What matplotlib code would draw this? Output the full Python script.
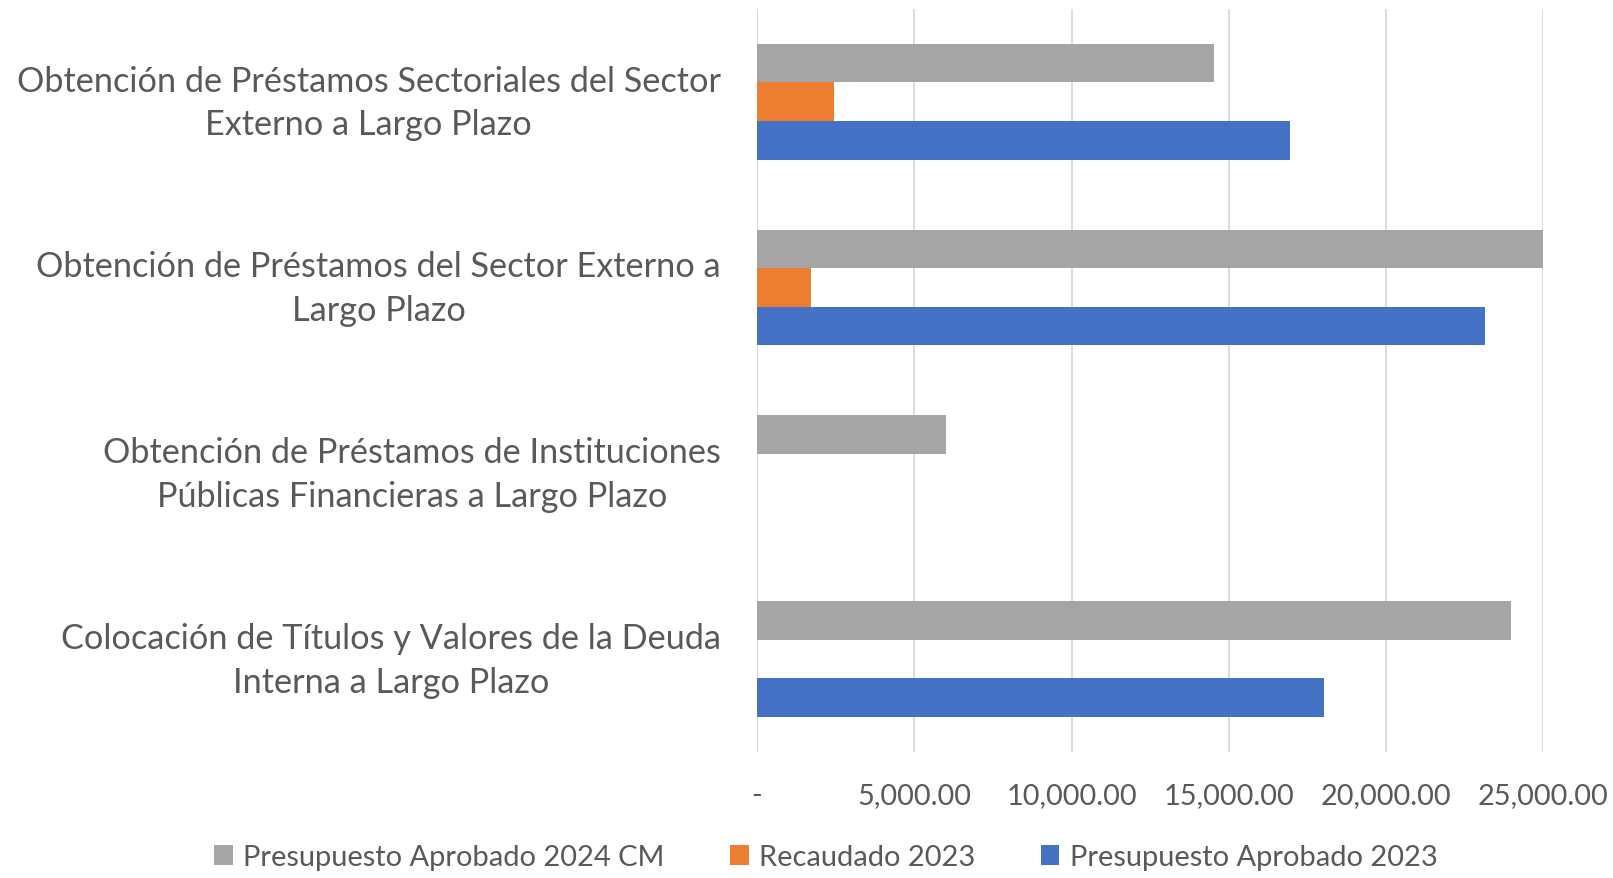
import matplotlib
matplotlib.use("Agg")
import matplotlib.pyplot as plt
import matplotlib.transforms as mtransforms
import numpy as np
from matplotlib.patches import Patch

plt.rcParams['font.family'] = ['Lato', 'DejaVu Sans']

categories = [
    "Obtención de Préstamos Sectoriales del Sector\nExterno a Largo Plazo",
    "Obtención de Préstamos del Sector Externo a\nLargo Plazo",
    "Obtención de Préstamos de Instituciones\nPúblicas Financieras a Largo Plazo",
    "Colocación de Títulos y Valores de la Deuda\nInterna a Largo Plazo",
]
series_names = ["Presupuesto Aprobado 2024 CM", "Recaudado 2023", "Presupuesto Aprobado 2023"]
presupuesto_2024_cm = [14530, 25070, 6020, 23970]
recaudado_2023 = [2450, 1730, 0, 0]
presupuesto_2023 = [16950, 23130, 0, 18030]
x_ticks = [0, 5000, 10000, 15000, 20000, 25000]
x_tick_labels = ["-", "5,000.00", "10,000.00", "15,000.00", "20,000.00", "25,000.00"]
colors = ["#A5A5A5", "#ED7D31", "#4472C4"]

text_color = "#595959"
fig = plt.figure(figsize=(16.13, 8.79), dpi=100)
ax = fig.add_axes([0.4693, 0.1437, 0.4875, 0.845])

y = np.arange(len(categories))
h = 0.208
for i, (vals, c) in enumerate(zip([presupuesto_2024_cm, recaudado_2023, presupuesto_2023], colors)):
    ax.barh(y + (i - 1) * h, vals, height=h, color=c, zorder=3)

ax.set_ylim(3.5, -0.5)
ax.set_xlim(0, 25000)
ax.set_xticks(x_ticks)
ax.set_xticklabels(x_tick_labels, fontsize=20.8, color=text_color)
ax.set_yticks(y)
ax.set_yticklabels(categories, fontsize=24.65, color=text_color, ha='right',
                   multialignment='center', linespacing=1.45)
ax.tick_params(axis='y', length=0, pad=26)
ax.tick_params(axis='x', length=0, pad=22)
offset = mtransforms.ScaledTranslation(0, 8 / 100, fig.dpi_scale_trans)
for lbl in ax.get_yticklabels():
    lbl.set_transform(lbl.get_transform() + offset)
for s in ax.spines.values():
    s.set_visible(False)
ax.grid(axis='x', color='#D9D9D9', linewidth=1.3, zorder=0)
ax.axvline(0, color='#D9D9D9', linewidth=1.3, zorder=1)

handles = [Patch(facecolor=c, edgecolor='none') for c in colors]
fig.legend(handles, series_names, loc='center', bbox_to_anchor=(0.512, 0.0235), ncol=3,
           frameon=False, fontsize=20.9, labelcolor=text_color, handlelength=0.65, handleheight=0.65,
           handletextpad=0.35, columnspacing=2.25)

fig.savefig("out.png", dpi=100)
